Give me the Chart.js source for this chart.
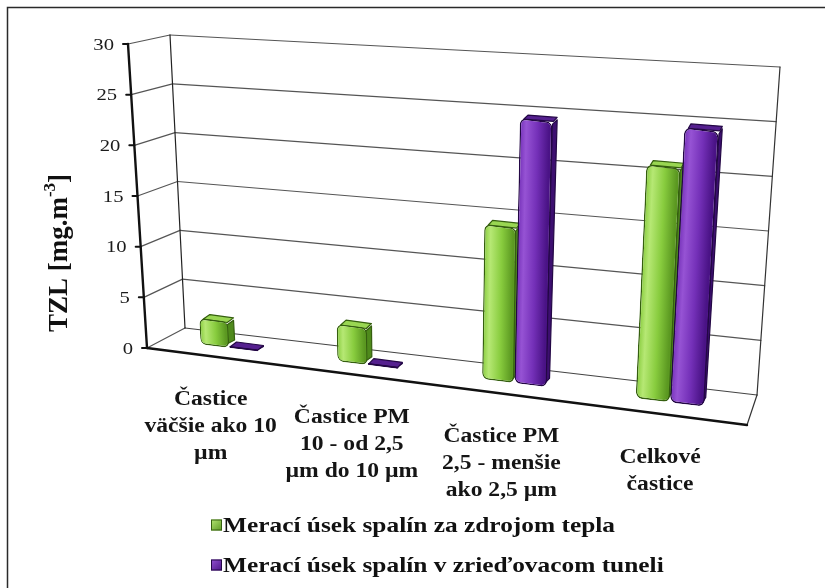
<!DOCTYPE html>
<html>
<head>
<meta charset="utf-8">
<title>TZL</title>
<script src="https://cdn.jsdelivr.net/npm/chart.js@4.4.1/dist/chart.umd.min.js"></script>
<style>
  html, body { margin: 0; padding: 0; background: #fff; }
  #box { position: relative; width: 825px; height: 588px; overflow: hidden; }
  canvas { display: block; }
</style>
</head>
<body>
<div id="box"><canvas id="chart" width="825" height="588"></canvas></div>
<script>
// ---- data -------------------------------------------------------------
const categoryLabels = [
  ["Častice", "väčšie ako 10", "µm"],
  ["Častice PM", "10 - od 2,5", "µm do 10 µm"],
  ["Častice PM", "2,5 - menšie", "ako 2,5 µm"],
  ["Celkové", "častice"]
];
const seriesLabels = [
  "Merací úsek spalín za zdrojom tepla",
  "Merací úsek spalín v zrieďovacom tuneli"
];
const sourceValues = [2.6, 3.6, 14.6, 21.4];   // za zdrojom tepla
const tunnelValues = [0.2, 0.2, 24.8, 25.0];   // v zrieďovacom tuneli
const yMin = 0;
const yMax = 30;
const yStep = 5;
const yTitleMain = "TZL [mg.m";
const yTitleSup = "-3";
const yTitleEnd = "]";

// ---- look ---------------------------------------------------------------
const SERIF = '"Liberation Serif", "Times New Roman", serif';
const TEXT_STRETCH = 1.18;          // wide serif lettering
const Z_FRONT = 0.42, Z_BACK = 0.6; // depth of the column boxes in the floor
const PERSPECTIVE = 0.89;           // horizontal foreshortening toward the left
const LOOKS = [
  { edge: "#355f0f", dark: "#5b9821", base: "#88cc3e", light: "#b6e874",
    top: "#99d652", side: "#4f8a1c" },
  { edge: "#230745", dark: "#4a1386", base: "#7430b8", light: "#9653d4",
    top: "#55208f", side: "#3d0f70" }
];

// Maps (u along categories 0..1, t along values 0..1, z depth 0 front..1 back)
// onto the page, using the chart area as the front face of the box.
function makeProjector(a) {
  const F = { L0: [a.left, a.bottom], L1: [a.left - 19, a.top],
              R0: [a.right, a.bottom + 77], R1: [a.right + 23, a.top + 41] };
  const B = { L0: [a.left + 38, a.bottom - 20], L1: [a.left + 23, a.top - 9],
              R0: [a.right + 10, a.bottom + 47], R1: [a.right + 33, a.top + 23] };
  const plane = (P, u, t) => [0, 1].map(k =>
    (1 - u) * (1 - t) * P.L0[k] + (1 - u) * t * P.L1[k] + u * (1 - t) * P.R0[k] + u * t * P.R1[k]);
  return (u, t, z) => {
    const w = u * PERSPECTIVE / (1 + (PERSPECTIVE - 1) * u);
    const f = plane(F, w, t), b = plane(B, w, t);
    return { x: f[0] + (b[0] - f[0]) * z, y: f[1] + (b[1] - f[1]) * z };
  };
}

function stretchedText(ctx, text, x, y, align) {
  ctx.save();
  ctx.translate(x, y);
  ctx.scale(TEXT_STRETCH, 1);
  ctx.textAlign = align;
  ctx.fillText(text, 0, 0);
  ctx.restore();
}

function line(ctx, p, q, color, width) {
  ctx.beginPath();
  ctx.moveTo(p.x, p.y);
  ctx.lineTo(q.x, q.y);
  ctx.strokeStyle = color;
  ctx.lineWidth = width;
  ctx.stroke();
}

function face(ctx, pts, fill, edge) {
  ctx.beginPath();
  pts.forEach((p, i) => (i ? ctx.lineTo(p.x, p.y) : ctx.moveTo(p.x, p.y)));
  ctx.closePath();
  ctx.lineJoin = "round";
  ctx.fillStyle = fill;
  ctx.fill();
  ctx.lineWidth = 1.2;
  ctx.strokeStyle = edge;
  ctx.stroke();
}

// ---- column controller: bar elements drawn as boxes in the projected floor ----
class Column3DController extends Chart.BarController {
  draw() {
    const chart = this.chart, ctx = chart.ctx, area = chart.chartArea;
    const yScale = this._cachedMeta.vScale;
    const proj = makeProjector(area);
    const look = LOOKS[this.index % LOOKS.length];
    const span = yScale.max - yScale.min;
    for (const el of this._cachedMeta.data) {
      const { x, y, base, width } = el.getProps(["x", "y", "base", "width"], true);
      const x0 = x - width / 2, x1 = x + width / 2;
      const u0 = (x0 - area.left) / area.width, u1 = (x1 - area.left) / area.width;
      const tTop = (yScale.getValueForPixel(y) - yScale.min) / span;
      const tBase = (yScale.getValueForPixel(base) - yScale.min) / span;
      const fl0 = proj(u0, tBase, Z_FRONT), fr0 = proj(u1, tBase, Z_FRONT);
      const fl1 = proj(u0, tTop, Z_FRONT), fr1 = proj(u1, tTop, Z_FRONT);
      const bl1 = proj(u0, tTop, Z_BACK), br1 = proj(u1, tTop, Z_BACK);
      const br0 = proj(u1, tBase, Z_BACK);
      const r = Math.min(4, Math.abs(fl0.y - fl1.y) / 2);

      ctx.save();
      // right side face, then top face
      face(ctx, [{ x: fr0.x - 2, y: fr0.y - r }, { x: fr1.x - 2, y: fr1.y + r },
                 { x: br1.x - 1, y: br1.y + r * 0.6 }, { x: br0.x - 1, y: br0.y - r }],
           look.side, look.edge);
      face(ctx, [{ x: fl1.x + r, y: fl1.y + 1 }, { x: fr1.x - 1, y: fr1.y + 1 },
                 { x: br1.x - 1, y: br1.y }, { x: bl1.x + r, y: bl1.y }],
           look.top, look.edge);
      ctx.restore();

      // front face: the element's own rectangle mapped onto the projected face
      const h = (y - base) || -1;
      const a = (fr0.x - fl0.x) / (x1 - x0), b = (fr0.y - fl0.y) / (x1 - x0);
      const c = (fl1.x - fl0.x) / h, d = (fl1.y - fl0.y) / h;
      const e = fl0.x - a * x0 - c * base, f = fl0.y - b * x0 - d * base;
      ctx.save();
      ctx.transform(a, b, c, d, e, f);
      const g = ctx.createLinearGradient(x0, 0, x1, 0);
      g.addColorStop(0, look.base);
      g.addColorStop(0.2, look.light);
      g.addColorStop(0.55, look.base);
      g.addColorStop(0.9, look.dark);
      g.addColorStop(1, look.dark);
      const saved = el.options;
      el.options = Object.assign({}, saved, { backgroundColor: g });
      el.draw(ctx, area);
      el.options = saved;
      ctx.restore();
    }
  }
}
Column3DController.id = "column3d";
Column3DController.defaults = Chart.BarController.defaults;
Column3DController.overrides = Chart.BarController.overrides;
Chart.register(Column3DController);

// ---- frame, axis texts, legend --------------------------------------------
const boxFrame = {
  id: "boxFrame",
  beforeDraw(chart) {
    const ctx = chart.ctx;
    ctx.save();
    ctx.fillStyle = "#fff";
    ctx.fillRect(0, 0, chart.width, chart.height);
    ctx.strokeStyle = "#2a2a2a";
    ctx.lineWidth = 1.5;
    ctx.strokeRect(7.5, 7.5, chart.width + 20, chart.height + 20);
    ctx.restore();
  },
  beforeDatasetsDraw(chart) {
    const ctx = chart.ctx, area = chart.chartArea, ys = chart.scales.y, xs = chart.scales.x;
    const proj = makeProjector(area);
    const span = ys.max - ys.min;
    let ticks = ys.ticks && ys.ticks.length ? ys.ticks.map(tk => tk.value) : [];
    if (!ticks.length) for (let v = yMin; v <= yMax; v += yStep) ticks.push(v);

    ctx.save();
    ctx.lineCap = "round";
    // back wall and side wall gridlines
    ticks.forEach(v => {
      const t = (v - ys.min) / span;
      if (t > 0) line(ctx, proj(0, t, 1), proj(1, t, 1), "#555", 1.2);
      line(ctx, proj(0, t, 0), proj(0, t, 1), "#555", 1.2);
    });
    line(ctx, proj(0, 0, 1), proj(1, 0, 1), "#444", 1.2);
    line(ctx, proj(0, 0, 1), proj(0, 1, 1), "#222", 1.2);
    line(ctx, proj(1, 0, 1), proj(1, 1, 1), "#333", 1.2);
    line(ctx, proj(1, 0, 0), proj(1, 0, 1), "#333", 1.2);
    // front edges
    line(ctx, proj(0, 0, 0), proj(1, 0, 0), "#111", 2.4);
    line(ctx, proj(0, 0, 0), proj(0, 1, 0), "#111", 2.4);

    // value ticks and labels
    ctx.fillStyle = "#1c1c1c";
    ctx.font = "17.5px " + SERIF;
    ctx.textBaseline = "middle";
    ticks.forEach((v, i) => {
      const t = (v - ys.min) / span;
      const p = proj(0, t, 0);
      line(ctx, { x: p.x - 5, y: p.y }, p, "#111", 2);
      const label = ys.ticks && ys.ticks[i] ? ys.ticks[i].label : String(v);
      stretchedText(ctx, label, p.x - 14, p.y + 1, "right");
    });

    // value axis title
    ctx.save();
    ctx.translate(58, 253);
    ctx.rotate(-Math.PI / 2);
    const big = "bold 27px " + SERIF, small = "bold 17px " + SERIF;
    ctx.font = big;
    const wMain = ctx.measureText(yTitleMain).width;
    const wEnd = ctx.measureText(yTitleEnd).width;
    ctx.font = small;
    const wSup = ctx.measureText(yTitleSup).width;
    const sx = -(wMain + wSup + wEnd) / 2;
    ctx.textAlign = "left";
    ctx.textBaseline = "alphabetic";
    ctx.fillStyle = "#111";
    ctx.font = big;
    ctx.fillText(yTitleMain, sx, 9);
    ctx.fillText(yTitleEnd, sx + wMain + wSup, 9);
    ctx.font = small;
    ctx.fillText(yTitleSup, sx + wMain, -3);
    ctx.restore();

    // category labels under the front edge of the floor
    ctx.font = "bold 20px " + SERIF;
    ctx.fillStyle = "#151515";
    ctx.textBaseline = "middle";
    chart.data.labels.forEach((lines, i) => {
      const u = (xs.getPixelForValue(i) - area.left) / area.width;
      const p = proj(u, 0, 0);
      lines.forEach((txt, k) => stretchedText(ctx, txt, p.x - 4, p.y + 43 + k * 27, "center"));
    });

    // legend
    chart.data.datasets.forEach((ds, i) => {
      const look = LOOKS[i];
      const cy = 525 + i * 40;
      const g = ctx.createLinearGradient(211, cy - 6, 222, cy + 6);
      g.addColorStop(0, look.light);
      g.addColorStop(1, look.dark);
      ctx.fillStyle = g;
      ctx.fillRect(211, cy - 5.5, 11, 11);
      ctx.strokeStyle = look.edge;
      ctx.lineWidth = 1;
      ctx.strokeRect(211.5, cy - 5, 10, 10);
      ctx.fillStyle = "#111";
      ctx.font = "bold 21.5px " + SERIF;
      stretchedText(ctx, ds.label, 223, cy + 1, "left");
    });
    ctx.restore();

    // columns, series by series
    chart.getSortedVisibleDatasetMetas().forEach(meta => meta.controller.draw());
    return false;
  }
};

new Chart(document.getElementById("chart"), {
  type: "column3d",
  data: {
    labels: categoryLabels,
    datasets: [
      { label: seriesLabels[0], data: sourceValues },
      { label: seriesLabels[1], data: tunnelValues }
    ]
  },
  options: {
    responsive: false,
    animation: false,
    events: [],
    layout: { padding: { left: 147, top: 44, right: 78, bottom: 240 } },
    datasets: {
      column3d: {
        categoryPercentage: 0.43,
        barPercentage: 1,
        borderWidth: 1.4,
        borderRadius: 6,
        borderSkipped: false
      }
    },
    elements: { bar: { borderColor: ctx => LOOKS[ctx.datasetIndex].edge } },
    scales: {
      x: { display: false, offset: true },
      y: { display: false, min: yMin, max: yMax, ticks: { stepSize: yStep } }
    },
    plugins: { legend: { display: false }, tooltip: { enabled: false } }
  },
  plugins: [boxFrame]
});
</script>
</body>
</html>
